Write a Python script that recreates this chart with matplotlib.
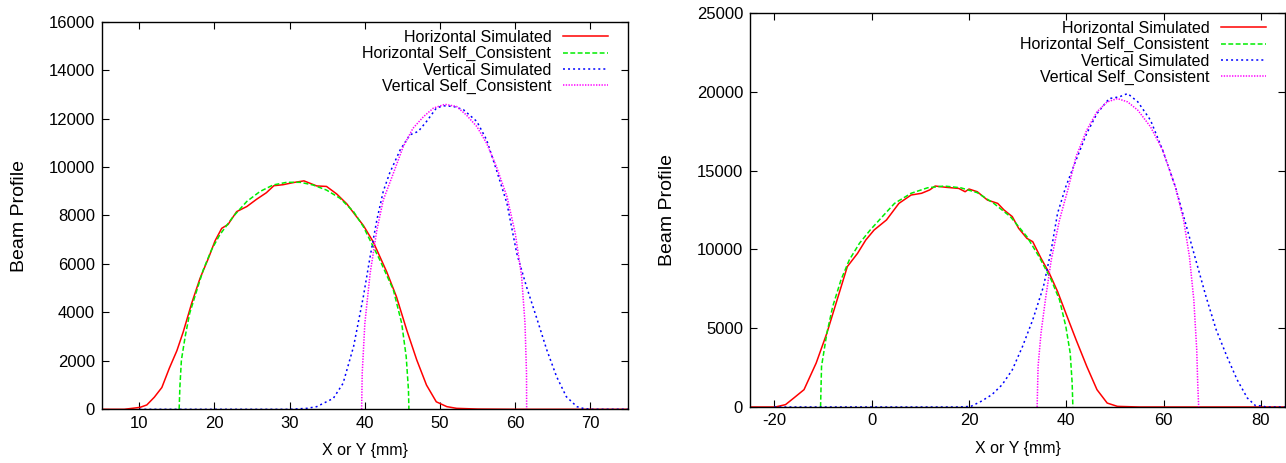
import matplotlib
matplotlib.use("Agg")
import matplotlib.pyplot as plt

plt.rcParams['font.family'] = ['Liberation Sans', 'DejaVu Sans']
plt.rcParams['axes.unicode_minus'] = False

# ---------------- Left panel data ----------------
L_hsim_x = [5, 8, 10.1, 11, 12, 13, 14, 15, 15.85, 16.97, 18.07, 19.2, 20.07, 20.96, 21.8, 22.95,
            24.3, 25.6, 26.9, 27.9, 29.1, 30.5, 31.9, 33.6, 34.9, 36.25, 37.6, 38.7, 39.8, 41.1,
            42.9, 44.2, 45.56, 46.9, 48.2, 49.5, 50.9, 52.2, 55, 60, 65, 70, 75]
L_hsim_y = [0, 0, 80, 180, 500, 900, 1700, 2420, 3200, 4380, 5400, 6240, 6950, 7470, 7630, 8160,
            8370, 8670, 8940, 9230, 9270, 9360, 9430, 9220, 9200, 8890, 8480, 8030, 7590, 6920,
            5680, 4650, 3280, 2040, 1000, 310, 110, 40, 10, 0, 0, 0, 0]

L_hsc_x = [15.3, 15.4, 15.6, 16.1, 16.7, 17.6, 18.5, 19.6, 20.7, 22.5, 24.3, 26.05, 27.8, 29.6,
           31.4, 33.1, 34.9, 36.7, 38.5, 39.8, 40.45, 42.0, 43.8, 44.9, 45.5, 45.8, 45.86]
L_hsc_y = [0, 930, 2030, 3000, 3960, 4860, 5750, 6580, 7200, 7960, 8580, 8990, 9260, 9370,
           9370, 9260, 9050, 8710, 8160, 7540, 7130, 6160, 4920, 3550, 2170, 800, 0]

L_vsim_x = [10, 20, 30, 32.3, 33.6, 35.8, 37.1, 38.5, 39.8, 40.7, 41.6, 42.45, 43.3, 44.7, 46.0,
            47.1, 48.2, 49.5, 50.4, 51.8, 53.1, 54.9, 56.2, 57.5, 58.9, 60.2, 61.5, 62.8, 64.2,
            65.5, 66.8, 68.2, 69, 70, 75]
L_vsim_y = [0, 0, 0, 40, 110, 450, 1070, 2590, 4650, 6300, 7820, 9000, 9750, 10710, 11330,
            11470, 11880, 12430, 12530, 12500, 12370, 11880, 11120, 9880, 8500, 6440, 5060, 3820,
            2450, 1350, 520, 110, 40, 0, 0]

L_vsc_x = [39.57, 39.65, 40.0, 40.7, 41.6, 42.45, 43.8, 45.1, 46.4, 47.8, 49.1, 50.65, 52.2, 53.5,
           54.9, 56.2, 57.5, 58.9, 60.0, 60.85, 61.3, 61.5, 61.52]
L_vsc_y = [0, 1490, 3550, 5610, 7400, 8640, 9750, 10840, 11600, 12080, 12430, 12590, 12500, 12150,
           11670, 10980, 10020, 8780, 7270, 5480, 3550, 1490, 0]

# ---------------- Right panel data ----------------
R_hsim_x = [-25, -22, -19.8, -17.7, -16.0, -13.9, -11.4, -9.2, -7.1, -5.0, -2.9, -1.2, 0.5, 3.05,
            5.6, 8.1, 10.25, 11.9, 13.05, 15.3, 17.9, 19.2, 20.0, 21.7, 23.8, 25.9, 27.2, 28.9,
            30.2, 31.9, 33.1, 34.8, 36.5, 38.2, 39.9, 42.0, 44.2, 46.3, 48.4, 50.5, 55, 65, 75, 85]
R_hsim_y = [0, 0, 0, 150, 570, 1100, 2790, 4690, 6800, 8910, 9750, 10600, 11230, 11870,
            12920, 13450, 13560, 13770, 14020, 13940, 13870, 13660, 13830, 13660, 13130, 12920,
            12500, 12080, 11340, 10700, 10490, 9440, 8490, 7330, 5950, 4270, 2580, 1100, 250, 40,
            0, 0, 0, 0]

R_hsc_x = [-10.5, -10.3, -9.2, -8.0, -6.3, -4.6, -2.5, -0.3, 2.2, 4.7, 8.1, 11.5, 14.9, 18.3,
           21.7, 25.1, 28.5, 31.9, 34.4, 36.9, 38.6, 39.9, 40.8, 41.2, 41.35]
R_hsc_y = [0, 2580, 4690, 6380, 8070, 9330, 10390, 11230, 12080, 12920, 13560, 13910, 14020,
           13910, 13600, 12920, 12080, 10810, 9540, 8070, 6800, 5110, 3420, 1520, 0]

R_vsim_x = [-20, 0, 18, 20.4, 22.5, 24.7, 26.8, 28.9, 31.0, 33.1, 35.3, 36.9, 38.2, 39.9, 42.0,
            44.2, 46.3, 48.8, 50.9, 52.6, 54.7, 57.3, 59.8, 62.4, 64.5, 66.6, 68.7, 70.8, 73.0,
            75.1, 77.2, 78.9, 80.2, 81, 85]
R_vsim_y = [0, 0, 0, 40, 360, 780, 1410, 2360, 3840, 5530, 7640, 9970, 12290, 13980, 15670,
            17360, 18620, 19570, 19680, 19890, 19360, 18200, 16300, 13980, 11660, 9330, 7010,
            4900, 3210, 1730, 570, 80, 80, 0, 0]

R_vsc_x = [34.0, 34.2, 34.8, 35.7, 36.9, 38.6, 40.3, 42.0, 44.2, 46.3, 48.4, 50.5, 52.6, 54.7,
           57.3, 59.8, 62.4, 64.1, 65.3, 66.2, 66.8, 67.0, 67.2]
R_vsc_y = [0, 2580, 4690, 6800, 9330, 11870, 13770, 15880, 17570, 18730, 19360, 19570, 19360,
           18830, 17780, 16300, 13980, 11870, 9540, 6800, 3630, 1520, 0]

labels = ["Horizontal Simulated", "Horizontal Self_Consistent",
          "Vertical Simulated", "Vertical Self_Consistent"]
L_xticks = [10, 20, 30, 40, 50, 60, 70]
L_yticks = [0, 2000, 4000, 6000, 8000, 10000, 12000, 14000, 16000]
R_xticks = [-20, 0, 20, 40, 60, 80]
R_yticks = [0, 5000, 10000, 15000, 20000, 25000]

fig = plt.figure(figsize=(12.86, 4.63), dpi=100)
axL = fig.add_axes([101.7/1286, 1-409.3/463, 526.3/1286, 387.6/463])
axR = fig.add_axes([750/1286, 1-407/463, 535.3/1286, 394/463])

styles = [dict(color='#ff0000', lw=1.1, linestyle='-'),
          dict(color='#00ee00', lw=1.1, linestyle=(0, (3.2, 1.6))),
          dict(color='#0000ff', lw=1.1, linestyle=(0, (1.3, 2.0))),
          dict(color='#ff00ff', lw=1.1, linestyle=(0, (0.9, 0.9)))]


def setup(ax, series, xlim, ylim, xt, yt, anchor, ylabelpad):
    for (x, y), st, lab in zip(series, styles, labels):
        ax.plot(x, y, label=lab, **st)
    ax.set_xlim(*xlim)
    ax.set_ylim(*ylim)
    ax.set_xticks(xt)
    ax.set_yticks(yt)
    ax.tick_params(direction='in', length=5, width=0.8, top=True, right=True,
                   labelsize=12, colors='black')
    ax.tick_params(axis='y', pad=5)
    ax.tick_params(axis='x', pad=4.5)
    for s in ax.spines.values():
        s.set_linewidth(1.0)
    ax.set_xlabel("X or Y {mm}", fontsize=11.5, labelpad=9)
    ax.set_ylabel("Beam Profile", fontsize=14, labelpad=ylabelpad)
    leg = ax.legend(loc='upper right', bbox_to_anchor=anchor, frameon=False,
                    markerfirst=False, fontsize=11.5, handlelength=2.8,
                    handletextpad=0.75, labelspacing=0.08, borderpad=0,
                    borderaxespad=0)
    return leg


setup(axL, [(L_hsim_x, L_hsim_y), (L_hsc_x, L_hsc_y), (L_vsim_x, L_vsim_y), (L_vsc_x, L_vsc_y)],
      (5, 75), (0, 16000), L_xticks, L_yticks, (0.962, 0.979), 15)
setup(axR, [(R_hsim_x, R_hsim_y), (R_hsc_x, R_hsc_y), (R_vsim_x, R_vsim_y), (R_vsc_x, R_vsc_y)],
      (-25, 85), (0, 25000), R_xticks, R_yticks, (0.964, 0.980), 15)

fig.savefig("out.png", dpi=100)
